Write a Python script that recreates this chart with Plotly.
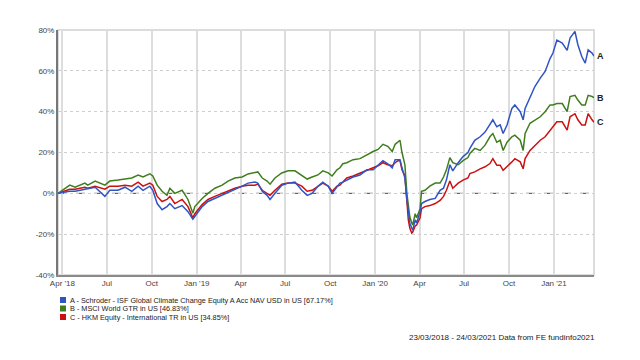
import plotly.graph_objects as go

dates = [
    "2018-03-23", "2018-04-16", "2018-04-27", "2018-05-17", "2018-05-23", "2018-06-07",
    "2018-06-27", "2018-07-07", "2018-07-24", "2018-08-07", "2018-08-21", "2018-09-03",
    "2018-09-13", "2018-09-27", "2018-10-03", "2018-10-12", "2018-10-22", "2018-11-01",
    "2018-11-07", "2018-11-17", "2018-12-02", "2018-12-14", "2018-12-24", "2018-12-28",
    "2019-01-12", "2019-01-24", "2019-02-07", "2019-02-22", "2019-03-06", "2019-03-20",
    "2019-04-04", "2019-04-16", "2019-04-30", "2019-05-06", "2019-05-15", "2019-05-25",
    "2019-05-31", "2019-06-10", "2019-06-24", "2019-07-07", "2019-07-21", "2019-08-04",
    "2019-08-15", "2019-08-25", "2019-09-06", "2019-09-16", "2019-09-27", "2019-10-05",
    "2019-10-15", "2019-10-21", "2019-10-27", "2019-11-04", "2019-11-17", "2019-12-01",
    "2019-12-15", "2019-12-28", "2020-01-07", "2020-01-17", "2020-01-27", "2020-02-05",
    "2020-02-11", "2020-02-17", "2020-02-21", "2020-02-25", "2020-03-02", "2020-03-06",
    "2020-03-09", "2020-03-12", "2020-03-16", "2020-03-18", "2020-03-23", "2020-03-26",
    "2020-04-02", "2020-04-05", "2020-04-12", "2020-04-22", "2020-05-03", "2020-05-13",
    "2020-05-20", "2020-05-26", "2020-06-02", "2020-06-08", "2020-06-19", "2020-06-29",
    "2020-07-09", "2020-07-13", "2020-07-23", "2020-08-03", "2020-08-13", "2020-08-23",
    "2020-08-29", "2020-09-06", "2020-09-13", "2020-09-19", "2020-09-27", "2020-10-07",
    "2020-10-13", "2020-10-24", "2020-10-30", "2020-11-03", "2020-11-13", "2020-11-23",
    "2020-12-04", "2020-12-14", "2020-12-24", "2020-12-30", "2021-01-07", "2021-01-18",
    "2021-01-28", "2021-02-03", "2021-02-13", "2021-02-19", "2021-02-27", "2021-03-06",
    "2021-03-12", "2021-03-20", "2021-03-24",
]

schroder = [
    0, 1, 1, 2, 2, 3,
    -1.5, 1.5, 1.5, 3, 1, 3.5,
    1.5, 3.5, 1.5, -5, -8, -6.5,
    -5, -7.5, -6, -9, -12.7, -11.5,
    -6.5, -4, -2.5, -1, 0, 1.5,
    3.5, 5, 5.5, 5, 1, -1,
    -3, 0, 4, 5, 5.5, 1.5,
    -1, 0, 3.5, 5.5, 3.5, 0,
    3.5, 5, 5.5, 6.5, 8, 9,
    11.5, 11.5, 14, 16, 14.5, 12.5,
    16.5, 16.5, 16.5, 12.5, 7.5, -3,
    -10, -14.5, -17, -18, -13, -14.5,
    -9, -5, -4, -3, -2.5, 1.5,
    2.5, 6.5, 14, 11, 15, 18,
    20, 22, 26, 27.7, 30, 33.5,
    36, 32.6, 33.5, 29.3, 33.5, 41.6,
    43.3, 40, 36, 41.6, 47.4, 52.3,
    56.4, 59.7, 66, 68.7, 75, 73.6,
    70, 76, 79.3, 72.8, 67, 63.8,
    70.3, 68.7, 67.17,
]

msci_world = [
    0, 4, 3, 5, 4, 6,
    4, 6, 6.5, 7, 7.5, 9,
    8, 9.5, 8.5, 4, 1, -1,
    2.5, 0, 1.5, -3, -9.7, -6.5,
    -2.5, 0, 2.5, 4, 6, 7.5,
    8, 9.5, 10, 10.5, 7.5, 6,
    4.5, 7.5, 10, 11, 11, 9,
    7, 8, 9, 11, 10, 8.5,
    11.5, 12.5, 14.5, 15, 16.5, 17,
    19, 20.5, 21.5, 24, 23, 20.5,
    24, 25.5, 26, 20, 14, 0,
    -6.5, -11.5, -14.5, -15.5, -10, -12,
    -7.5, 1, 1.5, 3.5, 5, 5,
    8, 11.5, 17.5, 15, 14, 16,
    17.5, 19.5, 22, 21, 23.6, 27.7,
    29.3, 25, 26, 21, 25, 27.7,
    28.5, 26, 21, 29.3, 34.3, 36,
    37.5, 40, 43.3, 43.3, 44, 44,
    40, 47.4, 48, 45.7, 43.3, 43.3,
    48, 47.4, 46.83,
]

hkm_intl = [
    0, 2, 2, 3, 2.5, 3.5,
    2, 3.5, 3.5, 4, 3.5, 5.5,
    3.5, 5, 4, -1.5, -4, -3,
    -1.5, -5, -3, -6.5, -12, -10,
    -5.5, -3, -1.5, 0, 1, 2.5,
    3.5, 4, 4, 4.5, 1.5, 0,
    -1, 1.5, 4.5, 5, 5, 3.5,
    1, 1.5, 3.5, 5, 3.5, 1,
    3.5, 4, 5.5, 7.5, 8.5, 10,
    11.5, 12.5, 13.5, 15, 14, 13.5,
    15, 16, 16, 11.5, 8.5, -5,
    -13, -17, -19.5, -19, -16, -15.5,
    -12, -7.5, -6.5, -6, -5, -3.5,
    -1.5, 1.5, 6, 2.5, 5, 6.5,
    7.5, 9.7, 10.5, 12, 13, 14.6,
    17, 13.8, 13.8, 11.3, 13, 15.4,
    17, 15.4, 12, 17, 21, 23.6,
    26, 27.7, 31, 32.6, 35, 35,
    31, 37.5, 39, 36, 33.5, 33.5,
    39, 36, 34.85,
]

series_names = [
    "A - Schroder - ISF Global Climate Change Equity A Acc NAV USD in US [67.17%]",
    "B - MSCI World GTR in US [46.83%]",
    "C - HKM Equity - International TR in US [34.85%]",
]
series_tags = ["A", "B", "C"]
series_colors = ["#2f55c4", "#3f7d1e", "#cc1010"]
series_values = [schroder, msci_world, hkm_intl]

tick_dates = ["2018-04-01", "2018-07-01", "2018-10-01", "2019-01-01", "2019-04-01",
              "2019-07-01", "2019-10-01", "2020-01-01", "2020-04-01", "2020-07-01",
              "2020-10-01", "2021-01-01"]
tick_labels = ["Apr '18", "Jul", "Oct", "Jan '19", "Apr", "Jul", "Oct", "Jan '20",
               "Apr", "Jul", "Oct", "Jan '21"]
y_ticks = [-40, -20, 0, 20, 40, 60, 80]
y_tick_labels = ["-40%", "-20%", "0%", "20%", "40%", "60%", "80%"]
footer = "23/03/2018 - 24/03/2021 Data from FE fundinfo2021"

FONT = "Arial, Liberation Sans, sans-serif"

# page offset: the browser body has an 8px margin
OFF = 8
FIG_W, FIG_H = 624, 344
# plot area in page pixels
W0, W1, H0, H1 = 58, 594, 30, 275

fig = go.Figure()
for i in [2, 1, 0]:
    fig.add_trace(go.Scatter(
        x=dates, y=series_values[i], mode="lines",
        line=dict(color=series_colors[i], width=1.5),
        name=series_names[i], showlegend=False, hoverinfo="skip",
    ))

for i in range(3):
    fig.add_annotation(
        x=dates[-1], y=series_values[i][-1], text="<b>%s</b>" % series_tags[i],
        showarrow=False, xanchor="left", yanchor="middle", xshift=1,
        font=dict(family=FONT, size=9, color="#222"),
    )

def px(xp):
    return (xp - W0) / (W1 - W0)
def py(yp):
    return (H1 - yp) / (H1 - H0)

row_y = [300, 308.5, 317]
for i in range(3):
    fig.add_shape(type="rect", xref="paper", yref="paper",
                  x0=px(60), x1=px(66), y0=py(row_y[i] - 3), y1=py(row_y[i] + 3),
                  line=dict(width=0), fillcolor=series_colors[i])
    fig.add_annotation(
        xref="paper", yref="paper", x=px(68), y=py(row_y[i]), text=series_names[i],
        showarrow=False, xanchor="left", yanchor="middle",
        font=dict(family=FONT, size=7.3, color="#222"),
    )

fig.add_annotation(
    xref="paper", yref="paper", x=px(597), y=py(337), text=footer,
    showarrow=False, xanchor="right", yanchor="middle",
    font=dict(family=FONT, size=8, color="#222"),
)

fig.add_shape(type="line", xref="paper", yref="y", x0=0, x1=1, y0=0, y1=0,
              line=dict(color="#444", width=1, dash="dash"), layer="below")
fig.add_shape(type="rect", xref="paper", yref="paper", x0=0, x1=1, y0=0, y1=1,
              line=dict(color="#dcdcdc", width=2), layer="below")

fig.update_layout(
    width=FIG_W, height=FIG_H,
    margin=dict(l=W0 - OFF, r=FIG_W + OFF - W1, t=H0 - OFF, b=FIG_H + OFF - H1,
                autoexpand=False),
    paper_bgcolor="white", plot_bgcolor="white",
    font=dict(family=FONT, size=8, color="#444"),
    showlegend=False,
)
fig.update_xaxes(
    type="date", range=["2018-03-23", "2021-03-24"],
    tickvals=tick_dates, ticktext=tick_labels, tickangle=0,
    showgrid=True, gridcolor="#dddddd", gridwidth=1.5,
    showline=True, linecolor="#8a8a8a", linewidth=1.5,
    ticks="", tickfont=dict(family=FONT, size=8, color="#444"),
    zeroline=False,
)
fig.update_yaxes(
    range=[-40, 80], tickvals=y_ticks, ticktext=y_tick_labels,
    showgrid=True, gridcolor="#cfcfcf", gridwidth=1, griddash="dot",
    showline=True, linecolor="#777", linewidth=2,
    ticks="", tickfont=dict(family=FONT, size=8, color="#444"),
    zeroline=False,
)

fig.write_html("out.html")
